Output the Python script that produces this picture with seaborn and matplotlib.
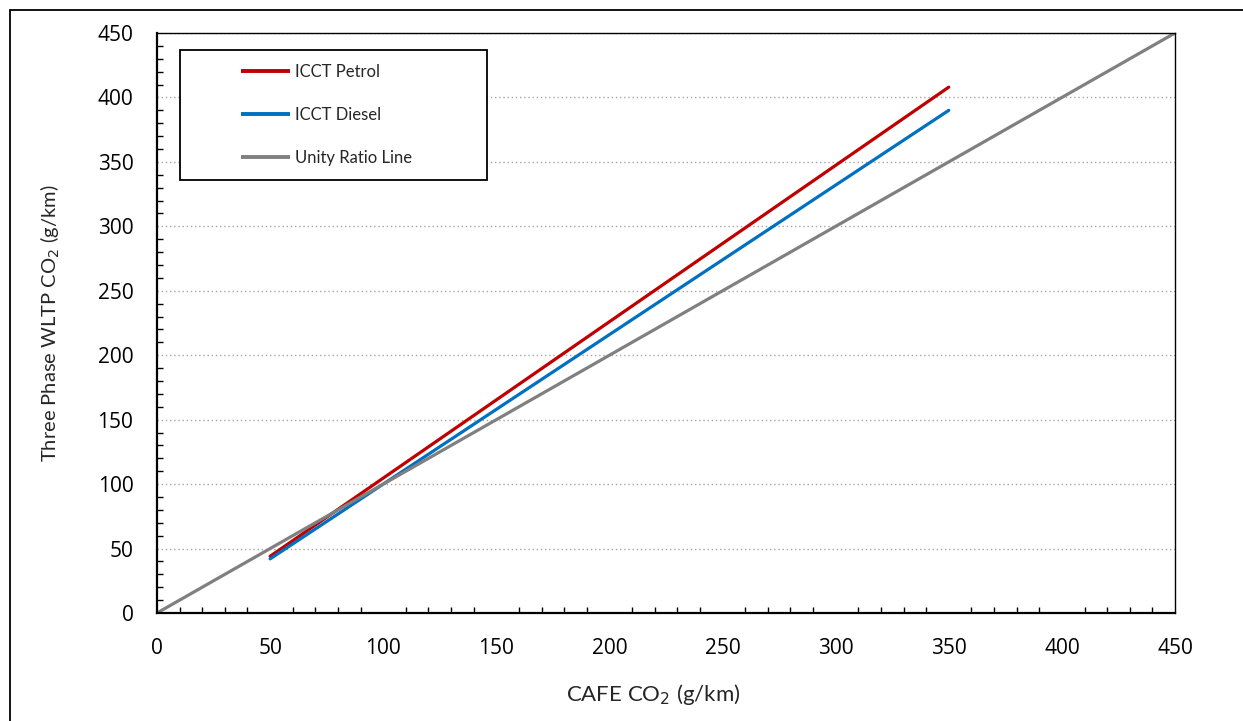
import numpy as np
import pandas as pd
import seaborn as sns
import matplotlib
matplotlib.use("Agg")
import matplotlib.pyplot as plt
from matplotlib.lines import Line2D
from matplotlib.legend_handler import HandlerLine2D
from matplotlib.patches import Rectangle
from matplotlib.ticker import MultipleLocator

# ---- data ----
series_names = ["ICCT Petrol", "ICCT Diesel", "Unity Ratio Line"]
petrol_x = [50, 350]
petrol_y = [44, 408]
diesel_x = [50, 350]
diesel_y = [42, 390]
unity_x = [0, 450]
unity_y = [0, 450]
colors = ["#C00000", "#0070C0", "#808080"]
x_ticks = [0, 50, 100, 150, 200, 250, 300, 350, 400, 450]
y_ticks = [0, 50, 100, 150, 200, 250, 300, 350, 400, 450]

df = pd.concat([
    pd.DataFrame({"x": petrol_x, "y": petrol_y, "series": series_names[0]}),
    pd.DataFrame({"x": diesel_x, "y": diesel_y, "series": series_names[1]}),
    pd.DataFrame({"x": unity_x, "y": unity_y, "series": series_names[2]}),
], ignore_index=True)

sns.set_theme(style="white")
plt.rcParams["font.family"] = ["Open Sans", "DejaVu Sans"]

W, H = 1243, 721
fig = plt.figure(figsize=(W / 100, H / 100), dpi=100)
ax = fig.add_axes([157 / W, (H - 613) / H, 1018 / W, 580 / H])

sns.lineplot(data=df, x="x", y="y", hue="series", hue_order=series_names,
             palette=colors, linewidth=2.3, ax=ax, legend=False, sort=False,
             estimator=None, solid_capstyle="round")

ax.set_xlim(0, 450)
ax.set_ylim(0, 450)
ax.set_xticks(x_ticks)
ax.set_yticks(y_ticks)
ax.xaxis.set_minor_locator(MultipleLocator(10))
ax.yaxis.set_minor_locator(MultipleLocator(10))
ax.tick_params(axis="both", which="major", direction="inout", length=10,
               width=1.2, color="black", labelsize=15, pad=12, labelcolor="black")
ax.tick_params(axis="both", which="minor", direction="in", length=4.5,
               width=1.0, color="black", bottom=True, left=True)
ax.tick_params(axis="x", which="major", pad=13)

ax.grid(False)
ax.yaxis.grid(True, which="major", linestyle=(0, (1, 2)), color="#A6A6A6", linewidth=1.0)
ax.set_axisbelow(True)

for side in ["left", "bottom"]:
    ax.spines[side].set_linewidth(1.6)
    ax.spines[side].set_color("black")
for side in ["top", "right"]:
    ax.spines[side].set_linewidth(1.0)
    ax.spines[side].set_color("black")
    ax.spines[side].set_visible(True)

ax.set_xlabel("CAFE CO$_2$ (g/km)", fontsize=16, family=["Lato", "DejaVu Sans"])
ax.set_ylabel("Three Phase WLTP CO$_2$ (g/km)", fontsize=14.5, family=["Lato", "DejaVu Sans"])
ax.xaxis.set_label_coords(0.487, -0.119)
ax.yaxis.set_label_coords(-0.0933, 0.5)


class OffsetHandler(HandlerLine2D):
    def create_artists(self, legend, orig_handle, xdescent, ydescent, width,
                       height, fontsize, trans):
        y = height / 2 - ydescent
        line = Line2D([width * 0.49 - xdescent, width - xdescent], [y, y])
        line.set_color(orig_handle.get_color())
        line.set_linewidth(orig_handle.get_linewidth())
        line.set_solid_capstyle("butt")
        line.set_transform(trans)
        return [line]


handles = [Line2D([0], [0], color=c, linewidth=2.8) for c in colors]
leg = ax.legend(handles, series_names, loc="upper left",
                bbox_to_anchor=(23 / 1018, (613 - 178) / 580, 307 / 1018, 128 / 580),
                mode="expand", borderaxespad=0, prop={"family": "Lato", "size": 12},
                frameon=True, fancybox=False, shadow=False, borderpad=0.85,
                labelspacing=1.62, handlelength=5.74, handletextpad=0.3,
                handler_map={Line2D: OffsetHandler()})
leg.get_frame().set_edgecolor("black")
leg.get_frame().set_linewidth(1.3)
leg.get_frame().set_alpha(1)

# outer chart frame (only left and top visible in the reference)
fig.patches.append(Rectangle((10 / W, -0.05), 1.2, (H - 10) / H + 0.05,
                             transform=fig.transFigure, fill=False,
                             edgecolor="black", linewidth=1.3))

fig.savefig("out.png", dpi=100)
